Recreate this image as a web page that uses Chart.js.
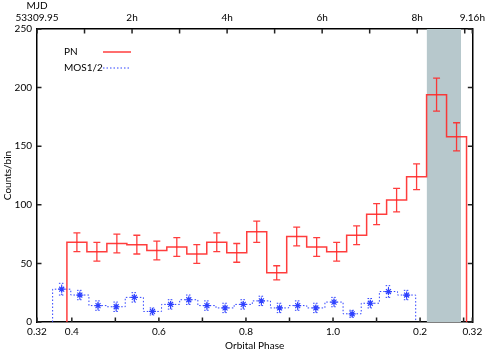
<!DOCTYPE html>
<html>
<head>
<meta charset="utf-8">
<script src="https://cdn.jsdelivr.net/npm/chart.js@4.4.0/dist/chart.umd.min.js"></script>
<style>
    html, body { margin: 0; padding: 0; background: #fff; }
    canvas { display: block; }
</style>
</head>
<body>
<canvas id="lightCurve" width="490" height="352"></canvas>
<script>
// ===================================
// Orbital light curve - PN and MOS1/2 counts per bin
// ===================================

// PN histogram (phase of first bin edge, bin width, counts, 1-sigma errors)
const pnStart = 0.3887;
const pnWidth = 0.0459;
const pnCounts = [68, 60, 67, 66, 61, 64, 58, 68, 59, 77, 42, 73, 64, 60, 74, 92, 104, 124, 194, 158];
const pnErrors = [8, 8, 8, 8, 8, 8, 8, 8, 8, 9, 6, 8, 8, 8, 8, 9, 10, 11, 14, 12];

// MOS1/2 histogram
const mosStart = 0.3559;
const mosWidth = 0.0417;
const mosCounts = [28, 23, 14, 13, 21, 9, 15, 19, 14, 12, 15, 18, 12, 14, 12, 17, 7, 16, 26, 23];
const mosErrors = [5, 4, 4, 4, 4, 3, 4, 4, 4, 4, 4, 4, 4, 4, 4, 4, 3, 4, 5, 4];

// shaded phase interval
const shadeFrom = 1.215;
const shadeTo = 1.294;

// bottom axis: orbital phase
const phaseTicks = [0.32, 0.4, 0.5, 0.6, 0.7, 0.8, 0.9, 1.0, 1.1, 1.2, 1.3, 1.32];
const phaseTickLabels = ['0.32', '0.4', '', '0.6', '', '0.8', '', '1.0', '', '0.2', '', '0.32'];

// top axis: hours since MJD 53309.95
const hourTicks = [0, 1, 2, 3, 4, 5, 6, 7, 8, 9, 9.16];
const hourTickLabels = ['53309.95', '', '2h', '', '4h', '', '6h', '', '8h', '', '9.16h'];

// left axis: counts
const countTicks = [0, 50, 100, 150, 200, 250];

const FONT = { family: 'Lato', size: 10 };
const RED = 'rgba(255, 40, 40, 0.9)';
const BLUE = '#2f42ff';

// Histogram outline, dropping to zero at both ends
function histogramPoints(start, width, counts) {
    const pts = [{ x: start, y: 0 }];
    counts.forEach((c, i) => {
        pts.push({ x: start + i * width, y: c });
        pts.push({ x: start + (i + 1) * width, y: c });
    });
    pts.push({ x: start + counts.length * width, y: 0 });
    return pts;
}

// Error bars with caps, separated by gaps
function errorBarPoints(start, width, counts, errors, cap) {
    const pts = [];
    counts.forEach((c, i) => {
        const xc = start + (i + 0.5) * width;
        const lo = c - errors[i];
        const hi = c + errors[i];
        pts.push({ x: xc, y: lo }, { x: xc, y: hi }, { x: xc, y: null });
        pts.push({ x: xc - cap, y: hi }, { x: xc + cap, y: hi }, { x: xc, y: null });
        pts.push({ x: xc - cap, y: lo }, { x: xc + cap, y: lo }, { x: xc, y: null });
    });
    return pts;
}

function centerPoints(start, width, counts) {
    return counts.map((c, i) => ({ x: start + (i + 0.5) * width, y: c }));
}

// Inward tick marks on all four sides
const inwardTicks = {
    id: 'inwardTicks',
    afterDatasetsDraw(chart) {
        const ctx = chart.ctx;
        const area = chart.chartArea;
        const len = 4.5;
        ctx.save();
        ctx.strokeStyle = '#222';
        ctx.lineWidth = 1.5;
        ctx.beginPath();
        phaseTicks.forEach(v => {
            const x = chart.scales.x.getPixelForValue(v);
            ctx.moveTo(x, area.bottom);
            ctx.lineTo(x, area.bottom - len);
        });
        hourTicks.forEach(v => {
            const x = chart.scales.x2.getPixelForValue(v);
            ctx.moveTo(x, area.top);
            ctx.lineTo(x, area.top + len);
        });
        countTicks.forEach(v => {
            const y = chart.scales.y.getPixelForValue(v);
            ctx.moveTo(area.left, y);
            ctx.lineTo(area.left + len, y);
            ctx.moveTo(area.right, y);
            ctx.lineTo(area.right - len, y);
        });
        ctx.stroke();
        ctx.restore();
    }
};

// Legend in the upper left of the plot, plus the MJD caption above the top axis
const keyBox = {
    id: 'keyBox',
    afterDraw(chart) {
        const ctx = chart.ctx;
        ctx.save();
        ctx.font = FONT.size + 'px ' + FONT.family;
        ctx.fillStyle = '#000';
        ctx.textBaseline = 'middle';

        ctx.textAlign = 'center';
        ctx.fillText('MJD', chart.scales.x2.getPixelForValue(0), 6);

        ctx.textAlign = 'left';
        ctx.fillText('PN', 64, 52);
        ctx.fillText('MOS1/2', 64, 68);

        ctx.strokeStyle = RED;
        ctx.lineWidth = 1.5;
        ctx.beginPath();
        ctx.moveTo(103, 52);
        ctx.lineTo(131, 52);
        ctx.stroke();

        ctx.strokeStyle = BLUE;
        ctx.lineWidth = 1;
        ctx.setLineDash([1.5, 2]);
        ctx.beginPath();
        ctx.moveTo(103, 68);
        ctx.lineTo(131, 68);
        ctx.stroke();
        ctx.restore();
    }
};

const capPhase = 0.008;

new Chart(document.getElementById('lightCurve'), {
    type: 'line',
    data: {
        datasets: [
            {
                label: 'PN',
                data: histogramPoints(pnStart, pnWidth, pnCounts),
                borderColor: RED,
                borderWidth: 1.5,
                pointRadius: 0,
                fill: false,
                order: 1
            },
            {
                label: 'PN errors',
                data: errorBarPoints(pnStart, pnWidth, pnCounts, pnErrors, capPhase),
                borderColor: RED,
                borderWidth: 1.3,
                pointRadius: 0,
                spanGaps: false,
                fill: false,
                order: 1
            },
            {
                label: 'MOS1/2',
                data: histogramPoints(mosStart, mosWidth, mosCounts),
                borderColor: BLUE,
                borderWidth: 1,
                borderDash: [1.5, 2],
                pointRadius: 0,
                fill: false,
                order: 2
            },
            {
                label: 'MOS errors',
                data: errorBarPoints(mosStart, mosWidth, mosCounts, mosErrors, capPhase * 0.8),
                borderColor: BLUE,
                borderWidth: 1,
                borderDash: [1.5, 1.5],
                pointRadius: 0,
                spanGaps: false,
                fill: false,
                order: 2
            },
            {
                label: 'MOS points',
                data: centerPoints(mosStart, mosWidth, mosCounts),
                showLine: false,
                pointStyle: 'star',
                pointRadius: 3.5,
                pointBorderWidth: 1.2,
                pointBorderColor: BLUE,
                pointBackgroundColor: BLUE,
                order: 2
            },
            {
                label: 'shade',
                data: [{ x: shadeFrom, y: 250 }, { x: shadeTo, y: 250 }],
                borderWidth: 0,
                pointRadius: 0,
                backgroundColor: '#b7c8cc',
                fill: 'origin',
                order: 10
            }
        ]
    },
    options: {
        responsive: false,
        animation: false,
        events: [],
        layout: { padding: 0 },
        plugins: {
            legend: { display: false },
            tooltip: { enabled: false }
        },
        scales: {
            x: {
                type: 'linear',
                position: 'bottom',
                min: 0.32,
                max: 1.32,
                afterBuildTicks: (scale) => { scale.ticks = phaseTicks.map(v => ({ value: v })); },
                afterFit: (scale) => { scale.height = 30; },
                ticks: {
                    autoSkip: false,
                    maxRotation: 0,
                    padding: 4,
                    color: '#000',
                    font: FONT,
                    callback: (value, index) => phaseTickLabels[index]
                },
                grid: { display: false, drawTicks: false },
                border: { display: true, color: '#000', width: 1.5 },
                title: {
                    display: true,
                    text: 'Orbital Phase',
                    color: '#000',
                    font: FONT,
                    padding: { top: 0, bottom: 0 }
                }
            },
            x2: {
                type: 'linear',
                position: 'top',
                min: 0,
                max: 9.16,
                afterBuildTicks: (scale) => { scale.ticks = hourTicks.map(v => ({ value: v })); },
                afterFit: (scale) => { scale.height = 29; },
                ticks: {
                    autoSkip: false,
                    maxRotation: 0,
                    padding: 5,
                    color: '#000',
                    font: FONT,
                    callback: (value, index) => hourTickLabels[index]
                },
                grid: { display: false, drawTicks: false },
                border: { display: true, color: '#000', width: 1.5 }
            },
            y: {
                type: 'linear',
                position: 'left',
                min: 0,
                max: 250,
                afterBuildTicks: (scale) => { scale.ticks = countTicks.map(v => ({ value: v })); },
                afterFit: (scale) => { scale.width = 37; },
                ticks: {
                    padding: 5,
                    color: '#000',
                    font: FONT
                },
                grid: { display: false, drawTicks: false },
                border: { display: true, color: '#000', width: 1.5 },
                title: {
                    display: true,
                    text: 'Counts/bin',
                    color: '#000',
                    font: FONT,
                    padding: { top: 2, bottom: 0 }
                }
            },
            y2: {
                type: 'linear',
                position: 'right',
                min: 0,
                max: 250,
                afterFit: (scale) => { scale.width = 16; },
                ticks: { display: false },
                grid: { display: false, drawTicks: false },
                border: { display: true, color: '#000', width: 1.5 }
            }
        }
    },
    plugins: [inwardTicks, keyBox]
});
</script>
</body>
</html>
